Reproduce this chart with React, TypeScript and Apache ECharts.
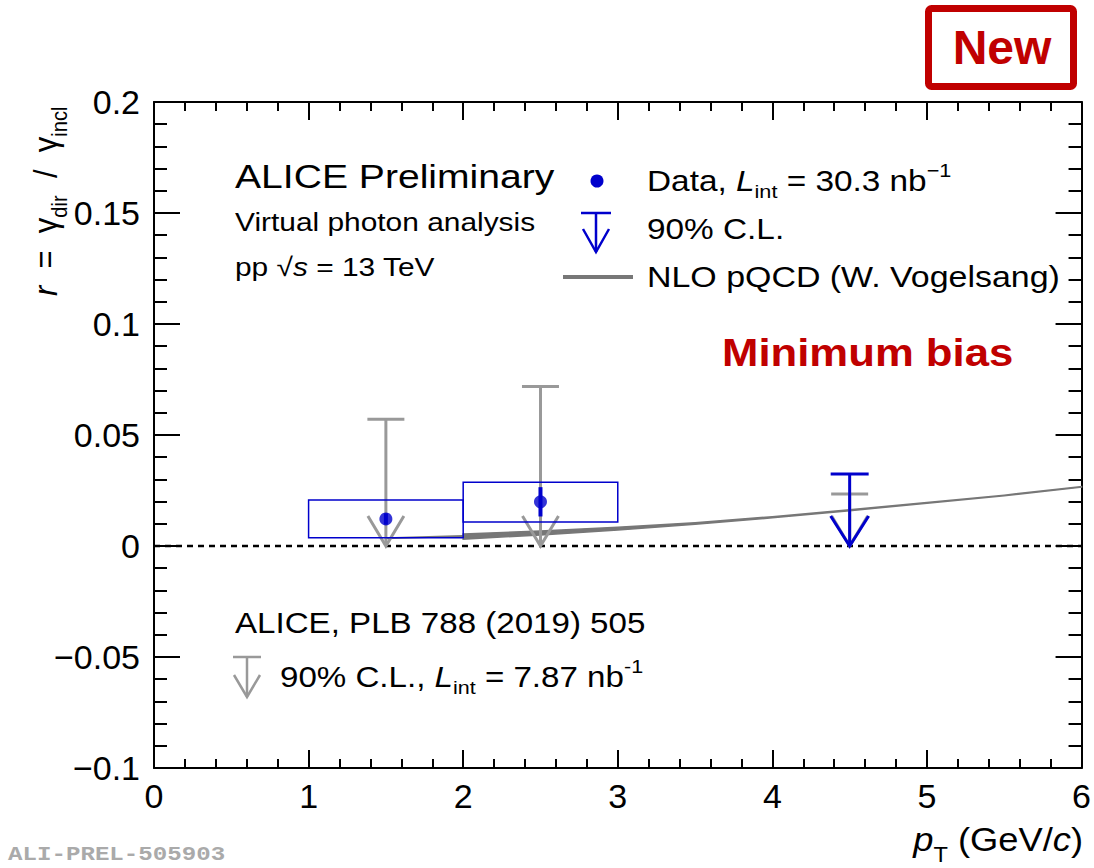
import React, { useEffect, useRef } from 'react';
import * as echarts from 'echarts';

// ---------- data ----------
const xTickLabels = ['0', '1', '2', '3', '4', '5', '6'];

// new data (virtual photon analysis, pp 13 TeV)
const dataPt = [1.5, 2.5];
const dataR = [0.0122, 0.0199];
const dataStat = [0.0025, 0.0066];
const dataSysLow = [0.0037, 0.0108];
const dataSysHigh = [0.0207, 0.0287];
const binLow = [1, 2];
const binHigh = [2, 3];

// new 90% C.L. upper limit
const newLimitPt = [4.5];
const newLimitR = [0.0324];

// ALICE PLB 788 (2019) 505 upper limits
const oldLimitPt = [1.5, 2.5, 4.5];
const oldLimitR = [0.0571, 0.0718, 0.0234];

// NLO pQCD
const nloLowPt = [1.5, 2];
const nloLowR = [0.0035, 0.0045];
const nloBandPt = [2, 2.5, 3, 3.5, 4, 4.5, 5, 5.5, 6];
const nloBandHigh = [0.0054, 0.0068, 0.0085, 0.0105, 0.0132, 0.0163, 0.0196, 0.0229, 0.0268];
const nloBandLow = [0.0031, 0.005, 0.0072, 0.0098, 0.0127, 0.0159, 0.0193, 0.0226, 0.0265];

// ---------- style ----------
const FONT = '"Liberation Sans", Arial, Helvetica, sans-serif';
const BLUE = '#0000cc';
const GRAY = '#999999';
const NLO = '#777777';
const RED = '#c00000';

function limitRenderer(color: string, capHalf: number, headHalf: number, headLen: number, lw: number) {
  return (params: any, api: any) => {
    const x = api.value(0);
    const y = api.value(1);
    const top = api.coord([x, y]);
    const base = api.coord([x, 0]);
    const style = { stroke: color, lineWidth: lw, fill: 'none' };
    return {
      type: 'group',
      children: [
        { type: 'line', shape: { x1: top[0] - capHalf, y1: top[1], x2: top[0] + capHalf, y2: top[1] }, style },
        { type: 'line', shape: { x1: top[0], y1: top[1], x2: base[0], y2: base[1] }, style },
        {
          type: 'polyline',
          shape: {
            points: [
              [base[0] - headHalf, base[1] - headLen],
              [base[0], base[1]],
              [base[0] + headHalf, base[1] - headLen],
            ],
          },
          style,
        },
      ],
    };
  };
}

function richSet(size: number, lh: number, color = '#000') {
  const s = size * 0.65;
  return {
    n: { fontSize: size, fontFamily: FONT, fill: color, lineHeight: lh },
    i: { fontSize: size, fontFamily: FONT, fontStyle: 'italic', fill: color, lineHeight: lh },
    sb: { fontSize: s, fontFamily: FONT, fill: color, lineHeight: s, verticalAlign: 'bottom' },
    sp: { fontSize: s, fontFamily: FONT, fill: color, lineHeight: s, verticalAlign: 'top' },
  };
}

function txt(x: number, y: number, text: string, size: number, opts: any = {}) {
  return {
    type: 'text',
    x,
    y,
    scaleX: opts.scaleX ?? 1.15,
    scaleY: opts.scaleY ?? 1,
    rotation: opts.rotation ?? 0,
    z: 100,
    style: {
      text,
      fontSize: size,
      fontFamily: opts.fontFamily ?? FONT,
      fontWeight: opts.fontWeight ?? 'normal',
      fill: opts.fill ?? '#000',
      align: opts.align ?? 'left',
      verticalAlign: 'middle',
      textAlign: opts.align ?? 'left',
      textVerticalAlign: 'middle',
      rich: opts.rich,
    },
  };
}

function axisCommon(tickLen: number, minorLen: number) {
  return {
    type: 'value',
    splitLine: { show: false },
    axisLine: { show: true, onZero: false, lineStyle: { color: '#000', width: 2 } },
    axisTick: { show: true, inside: true, length: tickLen, lineStyle: { color: '#000', width: 2 } },
    minorTick: { show: true, splitNumber: 5, length: minorLen, lineStyle: { color: '#000', width: 2 } },
    minorSplitLine: { show: false },
  };
}

export default function App() {
  const ref = useRef<HTMLDivElement>(null);

  useEffect(() => {
    if (!ref.current) return;
    const chart = echarts.init(ref.current, undefined, { renderer: 'svg' });

    const xLabel = {
      show: true,
      fontSize: 34,
      fontFamily: FONT,
      color: '#000',
      margin: 11,
      showMinLabel: true,
      showMaxLabel: true,
      formatter: (v: number) => xTickLabels[Math.round(v)] ?? String(v),
    };
    const yLabel = {
      show: true,
      fontSize: 34,
      fontFamily: FONT,
      color: '#000',
      margin: 14,
      showMinLabel: true,
      showMaxLabel: true,
      formatter: (v: number) => String(Math.round(v * 1000) / 1000).replace('-', '\u2212'),
    };

    const legendRich = richSet(29, 40);

    const option: any = {
      animation: false,
      backgroundColor: '#fff',
      grid: { left: 154, top: 102, width: 928, height: 666, containLabel: false },
      xAxis: [
        { ...axisCommon(18, 9), min: 0, max: 6, interval: 1, position: 'bottom', axisLabel: xLabel },
        { ...axisCommon(18, 9), min: 0, max: 6, interval: 1, position: 'top', axisLabel: { show: false } },
      ],
      yAxis: [
        { ...axisCommon(26, 13), min: -0.1, max: 0.2, interval: 0.05, position: 'left', axisLabel: yLabel },
        { ...axisCommon(26, 13), min: -0.1, max: 0.2, interval: 0.05, position: 'right', axisLabel: { show: false } },
      ],
      series: [
        {
          name: 'zero',
          type: 'line',
          data: [[0, 0], [6, 0]],
          symbol: 'none',
          silent: true,
          z: 1,
          lineStyle: { color: '#000', width: 2.5, type: [6, 5] },
        },
        {
          name: 'NLO band',
          type: 'custom',
          data: [[nloBandPt[0], nloBandLow[0]]],
          z: 2,
          silent: true,
          renderItem: (params: any, api: any) => {
            const up = nloBandPt.map((x, i) => api.coord([x, nloBandHigh[i]]));
            const lo = nloBandPt.map((x, i) => api.coord([x, nloBandLow[i]])).reverse();
            return {
              type: 'polygon',
              shape: { points: up.concat(lo) },
              style: { fill: NLO, stroke: NLO, lineWidth: 1.5 },
            };
          },
        },
        {
          name: 'NLO low',
          type: 'line',
          data: nloLowPt.map((x, i) => [x, nloLowR[i]]),
          symbol: 'none',
          silent: true,
          z: 2,
          lineStyle: { color: NLO, width: 2 },
        },
        {
          name: 'PLB 788 limits',
          type: 'custom',
          data: oldLimitPt.map((x, i) => [x, oldLimitR[i]]),
          z: 3,
          silent: true,
          renderItem: limitRenderer(GRAY, 18.5, 18, 30, 3),
        },
        {
          name: 'sys',
          type: 'custom',
          data: binLow.map((x, i) => [x, binHigh[i], dataSysLow[i], dataSysHigh[i]]),
          z: 4,
          silent: true,
          renderItem: (params: any, api: any) => {
            const p1 = api.coord([api.value(0), api.value(3)]);
            const p2 = api.coord([api.value(1), api.value(2)]);
            return {
              type: 'rect',
              shape: { x: p1[0], y: p1[1], width: p2[0] - p1[0], height: p2[1] - p1[1] },
              style: { fill: 'none', stroke: BLUE, lineWidth: 1.5 },
            };
          },
        },
        {
          name: 'stat',
          type: 'custom',
          data: dataPt.map((x, i) => [x, dataR[i] - dataStat[i], dataR[i] + dataStat[i]]),
          z: 5,
          silent: true,
          renderItem: (params: any, api: any) => {
            const a = api.coord([api.value(0), api.value(1)]);
            const b = api.coord([api.value(0), api.value(2)]);
            return {
              type: 'line',
              shape: { x1: a[0], y1: a[1], x2: b[0], y2: b[1] },
              style: { stroke: BLUE, lineWidth: 4 },
            };
          },
        },
        {
          name: 'Data',
          type: 'scatter',
          data: dataPt.map((x, i) => [x, dataR[i]]),
          symbol: 'circle',
          symbolSize: 13,
          z: 6,
          itemStyle: { color: BLUE },
        },
        {
          name: '90% C.L.',
          type: 'custom',
          data: newLimitPt.map((x, i) => [x, newLimitR[i]]),
          z: 7,
          silent: true,
          renderItem: limitRenderer(BLUE, 19, 19, 30, 3),
        },
      ],
      graphic: [
        // New box
        {
          type: 'rect',
          shape: { x: 928.5, y: 8.5, width: 145, height: 78, r: 3 },
          style: { fill: 'none', stroke: RED, lineWidth: 7 },
        },
        txt(1002, 47, 'New', 48, { fontWeight: 'bold', fill: RED, align: 'center', scaleX: 1 }),
        // left annotations
        txt(235, 176, 'ALICE Preliminary', 34),
        txt(235, 222, 'Virtual photon analysis', 26),
        txt(235, 267, '{n|pp }{n|\u221A}{i|s}{n| = 13 TeV}', 26, { rich: richSet(26, 36) }),
        // legend
        { type: 'circle', shape: { cx: 597, cy: 181, r: 6.5 }, style: { fill: BLUE } },
        txt(647, 181, '{n|Data, }{i|L}{sb|int}{n| = 30.3 nb}{sp|\u22121}', 29, { rich: legendRich }),
        { type: 'line', shape: { x1: 581, y1: 213, x2: 611, y2: 213 }, style: { stroke: BLUE, lineWidth: 2.5 } },
        { type: 'line', shape: { x1: 596, y1: 213, x2: 596, y2: 252 }, style: { stroke: BLUE, lineWidth: 2.5 } },
        {
          type: 'polyline',
          shape: { points: [[583, 229], [596, 252], [609, 229]] },
          style: { stroke: BLUE, lineWidth: 2.5, fill: 'none' },
        },
        txt(647, 229, '90% C.L.', 29),
        { type: 'line', shape: { x1: 563, y1: 277, x2: 633, y2: 277 }, style: { stroke: NLO, lineWidth: 4 } },
        txt(647, 277, 'NLO pQCD (W. Vogelsang)', 29, { scaleX: 1.17 }),
        // Minimum bias
        txt(722, 353, 'Minimum bias', 38, { fontWeight: 'bold', fill: RED, scaleX: 1.15 }),
        // PLB reference
        txt(235, 623, 'ALICE, PLB 788 (2019) 505', 28.8),
        { type: 'line', shape: { x1: 233, y1: 657, x2: 261, y2: 657 }, style: { stroke: GRAY, lineWidth: 2.5 } },
        { type: 'line', shape: { x1: 247, y1: 657, x2: 247, y2: 697 }, style: { stroke: GRAY, lineWidth: 2.5 } },
        {
          type: 'polyline',
          shape: { points: [[234, 675], [247, 697], [260, 675]] },
          style: { stroke: GRAY, lineWidth: 2.5, fill: 'none' },
        },
        txt(280, 677, '{n|90% C.L., }{i|L}{sb|int}{n| = 7.87 nb}{sp|-1}', 28.8, { rich: richSet(28.8, 40) }),
        // axis titles
        txt(1083, 840, '{i|p}{sb|T}{n| (GeV/}{i|c}{n|)}', 33, { align: 'right', rich: richSet(33, 50), scaleX: 1.1 }),
        txt(45, 296, '{i|r}{n|  =  \u03B3}{sb|dir}{n|  /  \u03B3}{sb|incl}', 31, {
          rotation: Math.PI / 2,
          scaleX: 1,
          scaleY: 1.1,
          rich: richSet(31, 46),
        }),
        // preliminary id
        txt(8, 854, 'ALI-PREL-505903', 21, {
          fontFamily: '"Liberation Mono", "Courier New", monospace',
          fontWeight: 'bold',
          fill: '#aaaaaa',
          scaleX: 1.15,
        }),
      ],
    };

    chart.setOption(option);
    return () => chart.dispose();
  }, []);

  return (
    <div
      ref={ref}
      style={{ position: 'absolute', left: 0, top: 0, width: 1094, height: 868, background: '#fff' }}
    />
  );
}
